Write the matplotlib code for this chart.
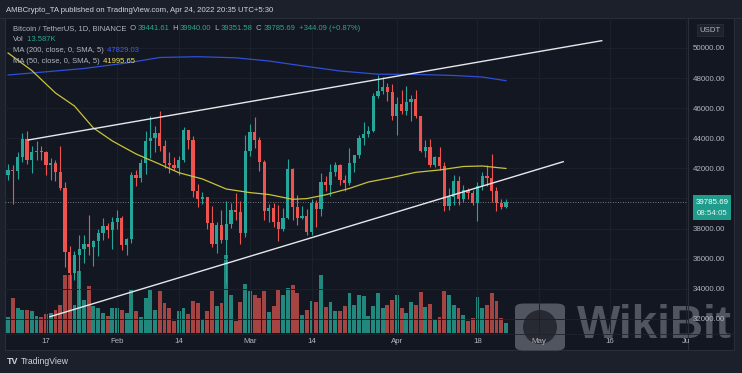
import matplotlib
matplotlib.use("Agg")
import matplotlib.pyplot as plt
import matplotlib.dates as mdates
from matplotlib.patches import Rectangle, FancyBboxPatch, Ellipse
import numpy as np
import pandas as pd

W, H = 742, 373

# daily BTC/USDT candles, Jan 9 - Apr 24 2022
dates = pd.date_range("2022-01-09", "2022-04-24", freq="D")
opens = [41551, 41864, 41821, 42735, 43949, 42591, 43099, 43177, 43113, 42250,
         42375, 41744, 40680, 36445, 35071, 36244, 36660, 36958, 36809, 37160,
         37716, 38166, 37881, 38466, 38694, 36896, 37311, 41571, 41382, 42380,
         43839, 44043, 44372, 43495, 42373, 42217, 42053, 42535, 44544, 43873,
         40515, 39974, 40079, 38386, 37008, 38230, 37250, 38328, 39219, 39116,
         37699, 43160, 44421, 43892, 42454, 39148, 39397, 38420, 37988, 38730,
         41941, 39422, 38729, 38807, 37777, 39671, 39280, 41114, 40917, 41757,
         42201, 41262, 41002, 42364, 42882, 43991, 44313, 44511, 46827, 47122,
         47434, 47067, 45510, 46283, 45810, 46407, 46580, 45497, 43170, 43444,
         42252, 42753, 42158, 39530, 40074, 41147, 39942, 40551, 40378, 39678,
         40801, 41493, 41358, 40480, 39709, 39441.61]
highs = [42305, 42248, 43100, 44322, 44500, 43459, 43800, 43475, 43179, 42681,
         42564, 43505, 41100, 36835, 36499, 37550, 37545, 38920, 37234, 38000,
         38720, 38359, 38744, 39265, 38855, 37387, 41772, 41913, 42656, 44500,
         45492, 44799, 45821, 43920, 43079, 42760, 42842, 44751, 44549, 44164,
         40959, 40444, 40125, 39494, 38429, 39249, 39843, 39683, 40348, 39855,
         44225, 44949, 45400, 44101, 42527, 39613, 39693, 39547, 39362, 42594,
         42039, 40236, 39486, 39310, 39947, 39887, 41718, 41478, 42325, 42400,
         42296, 41544, 43361, 42893, 44200, 45094, 44792, 46999, 48189, 48096,
         47700, 47600, 46720, 47213, 47444, 46890, 47200, 45507, 43900, 43970,
         42800, 43410, 42414, 40699, 41561, 41500, 40870, 40709, 40595, 41116,
         41760, 42199, 42976, 40795, 39980, 39940.00]
lows = [41252, 39650, 41268, 42450, 42311, 41725, 42555, 42581, 41540, 41250,
        41138, 40553, 35440, 34008, 34601, 32917, 35701, 36234, 35507, 36155,
        37268, 37351, 36632, 38000, 36586, 36250, 37026, 40843, 41116, 41645,
        42666, 43117, 43174, 42002, 41688, 41870, 41550, 42427, 43307, 40073,
        39450, 39639, 38000, 36800, 36350, 37036, 34322, 38014, 38573, 37000,
        37450, 42809, 43334, 41832, 38550, 38407, 38088, 37155, 37867, 38656,
        38539, 38223, 38660, 37578, 37555, 38098, 38828, 40500, 40135, 41499,
        40911, 40467, 40875, 41751, 42664, 43579, 44071, 44421, 46663, 46950,
        46445, 45200, 44200, 45620, 45530, 45118, 45353, 43121, 42727, 42107,
        42125, 41868, 39200, 39254, 39588, 39551, 39766, 39991, 39546, 38536,
        40571, 40820, 39751, 39177, 39285, 39351.58]
closes = [41864, 41821, 42735, 43949, 42591, 43099, 43177, 43113, 42250, 42375,
          41744, 40680, 36445, 35071, 36244, 36660, 36958, 36809, 37160, 37716,
          38166, 37881, 38466, 38694, 36896, 37311, 41571, 41382, 42380, 43839,
          44043, 44372, 43495, 42373, 42217, 42053, 42535, 44544, 43873, 40515,
          39974, 40079, 38386, 37008, 38230, 37250, 38328, 39219, 39116, 37699,
          43160, 44421, 43892, 42454, 39148, 39397, 38420, 37988, 38730, 41941,
          39422, 38729, 38807, 37777, 39671, 39280, 41114, 40917, 41757, 42201,
          41262, 41002, 42364, 42882, 43991, 44313, 44511, 46827, 47122, 47434,
          47067, 45510, 46283, 45810, 46407, 46580, 45497, 43170, 43444, 42252,
          42753, 42158, 39530, 40074, 41147, 39942, 40551, 40378, 39678, 40801,
          41493, 41358, 40480, 39709, 39441.61, 39785.69]
# volume in thousands of BTC
volumes = [21.8, 47.6, 34.0, 31.3, 31.3, 29.9, 23.1, 21.8, 25.8, 27.2,
           31.3, 38.1, 78.9, 78.9, 38.1, 84.3, 44.9, 63.9, 36.7, 34.0,
           27.2, 23.1, 34.0, 34.0, 31.3, 27.2, 58.5, 29.9, 21.8, 47.6,
           58.5, 31.3, 57.1, 40.8, 34.0, 16.3, 29.9, 34.0, 25.8, 43.5,
           40.8, 17.7, 29.9, 57.1, 36.7, 40.8, 106.1, 51.7, 16.3, 42.2,
           66.6, 57.1, 51.7, 47.6, 57.1, 28.6, 36.7, 58.5, 51.7, 61.2,
           65.3, 54.4, 24.5, 31.3, 43.5, 42.2, 78.9, 35.4, 42.2, 29.9,
           29.9, 36.7, 54.4, 38.1, 51.7, 50.3, 23.1, 36.7, 54.4, 34.0,
           38.1, 44.9, 51.7, 34.0, 27.2, 42.2, 38.1, 55.8, 35.4, 39.4,
           17.7, 21.8, 57.1, 51.7, 38.1, 34.0, 24.5, 16.3, 20.4, 49.0,
           34.0, 38.1, 54.4, 43.5, 20.4, 13.587]

# moving averages
ma200_dates = ["2022-01-09", "2022-01-17", "2022-01-25", "2022-02-03", "2022-02-10",
               "2022-02-18", "2022-02-26", "2022-03-05", "2022-03-12", "2022-03-20",
               "2022-03-28", "2022-04-05", "2022-04-13", "2022-04-19", "2022-04-24"]
ma200 = [48206, 48419, 48638, 49003, 49369, 49422, 49349, 49136, 48817, 48472,
         48259, 48246, 48173, 48073, 47829.03]
ma50_dates = ["2022-01-09", "2022-01-14", "2022-01-19", "2022-01-23", "2022-01-27",
              "2022-01-31", "2022-02-05", "2022-02-10", "2022-02-14", "2022-02-19",
              "2022-02-24", "2022-03-01", "2022-03-05", "2022-03-10", "2022-03-13",
              "2022-03-17", "2022-03-22", "2022-03-26", "2022-03-31", "2022-04-05",
              "2022-04-10", "2022-04-15", "2022-04-19", "2022-04-22", "2022-04-24"]
ma50 = [49668, 48505, 47010, 46146, 44684, 43821, 42957, 42279, 41714, 41296,
        40631, 40392, 40266, 39947, 39993, 40246, 40671, 41096, 41395, 41740,
        41894, 42126, 42159, 42060, 41995.65]

# trend lines (channel)
upper_dates = ["2022-01-13 06:00", "2022-05-14 05:00"]
upper_prices = [43887, 50485]
lower_dates = ["2022-01-17 20:00", "2022-05-06 02:00"]
lower_prices = [32146, 42445]

price_ticks = [32000, 34000, 36000, 38000, 40000, 42000, 44000, 46000, 48000, 50000]
time_ticks = ["2022-01-17", "2022-02-01", "2022-02-14", "2022-03-01", "2022-03-14",
              "2022-04-01", "2022-04-18", "2022-05-01", "2022-05-16", "2022-06-01"]
time_labels = ["17", "Feb", "14", "Mar", "14", "Apr", "18", "May", "16", "Ju"]
last_price = 39785.69

OUTER = "#1c202a"
PANEL = "#131722"
UP = "#26a69a"
DOWN = "#ef5350"
TXT = "#b2b5be"
TEAL = "#2aa88f"
plt.rcParams["font.family"] = ["Liberation Sans", "DejaVu Sans"]


def fx(x):
    return x / W


def fy(y):
    return 1 - y / H


fig = plt.figure(figsize=(W / 100, H / 100), dpi=100, facecolor=OUTER)

# chart panel + separators
fig.patches.append(Rectangle((fx(5), fy(350)), (734 - 5) / W, (350 - 18) / H,
                             transform=fig.transFigure, facecolor=PANEL,
                             edgecolor="#2a2e39", lw=0.8, zorder=0))
fig.add_artist(plt.Line2D([fx(688), fx(688)], [fy(18), fy(350)], color="#2a2e39",
                          lw=0.8, transform=fig.transFigure))
fig.add_artist(plt.Line2D([fx(5), fx(734)], [fy(333.5), fy(333.5)], color="#1f2330",
                          lw=0.6, transform=fig.transFigure))

rect = [fx(5), fy(333), (688 - 5) / W, (333 - 18) / H]
axv = fig.add_axes(rect)
ax = fig.add_axes(rect, sharex=axv)
ax.set_zorder(2)
axv.set_zorder(1)
ax.patch.set_visible(False)
axv.patch.set_visible(False)

x = mdates.date2num(dates)
o = np.array(opens)
c = np.array(closes)
hi = np.array(highs)
lo = np.array(lows)
up = c >= o
cols = np.where(up, UP, DOWN)

# volume
vcols = np.where(up, "#22877d", "#a44543")
axv.bar(x, volumes, width=0.82, color=vcols, linewidth=0)
axv.set_ylim(0, 428)
axv.axis("off")

# candles
ax.vlines(x, lo, hi, colors=cols, lw=0.8, zorder=3)
body_h = np.maximum(np.abs(c - o), 40)
ax.bar(x, body_h, bottom=np.minimum(o, c), width=0.68, color=cols, linewidth=0, zorder=4)

# moving averages
ax.plot(mdates.date2num(pd.to_datetime(ma200_dates)), ma200, color="#2f4fd8", lw=0.9, zorder=5)
ax.plot(mdates.date2num(pd.to_datetime(ma50_dates)), ma50, color="#c9c33a", lw=0.9, zorder=5)

# channel
ax.plot(mdates.date2num(pd.to_datetime(upper_dates)), upper_prices, color="#e8e8ec", lw=1.0, zorder=6)
ax.plot(mdates.date2num(pd.to_datetime(lower_dates)), lower_prices, color="#e8e8ec", lw=1.0, zorder=6)

# last price line
ax.axhline(last_price, color="#9598a1", lw=0.6, ls=(0, (1, 2)), zorder=2)

x0 = mdates.date2num(pd.Timestamp("2022-01-09")) - 0.65
ax.set_xlim(x0, x0 + 144.05)
ax.set_ylim(31063, 51993)

ax.set_yticks(price_ticks)
ax.set_yticklabels([f"{p:.2f}" for p in price_ticks])
ax.yaxis.tick_right()
ax.set_xticks(mdates.date2num(pd.to_datetime(time_ticks)))
ax.set_xticklabels(time_labels)
ax.tick_params(axis="both", length=0, colors=TXT, labelsize=5.7)
ax.tick_params(axis="y", pad=3.6)
ax.tick_params(axis="x", pad=3.5)
ax.grid(True, color="#1d212c", lw=0.7)
for s in ax.spines.values():
    s.set_visible(False)

# price axis extras
fig.text(fx(710), fy(30), "USDT", ha="center", va="center", fontsize=5.6, color=TXT,
         bbox=dict(boxstyle="square,pad=0.35", fc="#1e222d", ec="#2a2e39", lw=0.6))
fig.patches.append(Rectangle((fx(693), fy(220)), 38 / W, 25 / H, transform=fig.transFigure,
                             facecolor="#1f9d8c", edgecolor="none", zorder=3))
fig.text(fx(712), fy(202), "39785.69", ha="center", va="center", fontsize=5.7,
         color="white", zorder=4)
fig.text(fx(712), fy(213.5), "08:54:05", ha="center", va="center", fontsize=5.7,
         color="#dff5f1", zorder=4)

# header
fig.text(fx(6), fy(10.5), "AMBCrypto_TA published on TradingView.com, Apr 24, 2022 20:35 UTC+5:30",
         ha="left", va="center", fontsize=5.6, color="#d1d4dc")
fig.add_artist(plt.Line2D([0, 1], [fy(17.5), fy(17.5)], color="#2a2e39", lw=0.8,
                          transform=fig.transFigure))

# legend rows (label pieces placed one after another)
legend_rows = [
    (28.3, [("Bitcoin / TetherUS, 1D, BINANCE", TXT), (" O", TXT), ("39441.61", TEAL),
            (" H", TXT), ("39940.00", TEAL), (" L", TXT), ("39351.58", TEAL),
            (" C", TXT), ("39785.69", TEAL), (" +344.09 (+0.87%)", TEAL)]),
    (39.3, [("Vol", TXT), (" 13.587K", TEAL)]),
    (50.7, [("MA (200, close, 0, SMA, 5)", TXT), (" 47829.03", "#3d5afe")]),
    (61.7, [("MA (50, close, 0, SMA, 5)", TXT), (" 41995.65", "#f2e35a")]),
]
fig.canvas.draw()
rend = fig.canvas.get_renderer()
for y_px, parts in legend_rows:
    xp = 12.7
    for s, col in parts:
        t = fig.text(fx(xp), fy(y_px), s, ha="left", va="center", fontsize=5.5,
                     color=col, zorder=10)
        xp += t.get_window_extent(renderer=rend).width + 1.5

# footer
fig.text(fx(7), fy(361), "TV", ha="left", va="center", fontsize=6.5, weight="bold", color="#d1d4dc")
fig.text(fx(21), fy(361), "TradingView", ha="left", va="center", fontsize=6.2, color="#d1d4dc")

# watermark (under the axis labels)
fig.patches.append(FancyBboxPatch((fx(518), fy(349)), 44 / W, 44 / H,
                                  boxstyle="round,pad=0.004,rounding_size=0.012",
                                  transform=fig.transFigure, facecolor="#5d616b",
                                  edgecolor="none", alpha=0.85, zorder=1.5))
fig.patches.append(Ellipse((fx(540), fy(327)), 34 / W, 34 / H, transform=fig.transFigure,
                           facecolor="#23262e", edgecolor="none", alpha=0.9, zorder=1.6))
fig.text(fx(577), fy(326), "WikiBit", ha="left", va="center", fontsize=33, weight="bold",
         color="#5d616b", alpha=0.85, zorder=1.5)

fig.savefig("out.png", dpi=100, facecolor=OUTER)
